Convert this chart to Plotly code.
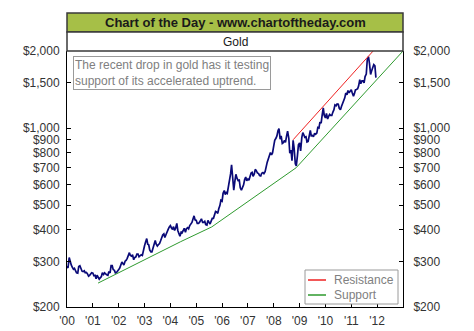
import pandas as pd
import plotly.graph_objects as go

# Gold price, US$/oz, sampled on the 1st and 15th of each month (Jan 2000 - Dec 2011)
dates = pd.date_range(start="2000-01-01", end="2011-12-15", freq="SMS")
gold = [
    289, 284, 312, 298, 292, 286, 281, 283, 277, 272, 271, 288, 290, 282, 276, 275, 277, 272, 273, 270, 264, 266, 268, 272,
    271, 265, 266, 258, 266, 262, 257, 260, 263, 272, 268, 272, 268, 267, 266, 275, 272, 290, 290, 280, 278, 272, 273, 278,
    280, 284, 292, 300, 296, 292, 302, 304, 310, 318, 326, 318, 316, 320, 306, 312, 314, 322, 322, 314, 318, 320, 318, 334,
    347, 358, 370, 352, 350, 334, 328, 328, 342, 356, 364, 352, 346, 350, 354, 362, 376, 382, 386, 374, 384, 396, 402, 410,
    416, 408, 402, 412, 398, 406, 424, 398, 386, 378, 392, 390, 398, 406, 392, 404, 408, 404, 416, 420, 428, 440, 454, 438,
    436, 424, 424, 428, 436, 442, 428, 428, 432, 420, 418, 436, 428, 422, 434, 444, 444, 462, 472, 470, 464, 484, 498, 522,
    518, 556, 570, 550, 560, 556, 588, 614, 662, 718, 636, 572, 620, 660, 636, 624, 626, 584, 572, 584, 600, 628, 644, 622,
    632, 626, 654, 668, 672, 648, 662, 690, 680, 668, 664, 652, 650, 666, 670, 664, 676, 712, 736, 756, 792, 802, 786, 800,
    852, 896, 912, 932, 975, 995, 905, 932, 870, 876, 894, 880, 932, 972, 912, 798, 820, 745, 895, 835, 725, 712, 780, 860,
    875, 815, 920, 960, 942, 920, 925, 882, 886, 926, 980, 932, 935, 925, 955, 945, 955, 1005, 1000, 1055, 1045, 1120, 1200, 1120,
    1095, 1140, 1085, 1112, 1130, 1120, 1120, 1152, 1180, 1232, 1222, 1242, 1240, 1195, 1180, 1215, 1245, 1272, 1312, 1370, 1350, 1402, 1372, 1392,
    1410, 1370, 1332, 1366, 1410, 1415, 1425, 1462, 1545, 1490, 1530, 1530, 1500, 1590, 1625, 1850, 1900, 1790, 1620, 1670, 1725, 1770, 1750, 1575,
]

# Trend lines
support_dates = ["2001-03-15", "2004-05-26", "2005-08-08", "2008-11-13", "2013-01-01"]
support_vals = [248, 360, 411, 700, 2000]
resist_dates = ["2008-10-01", "2011-11-06"]
resist_vals = [900, 2000]

# Axis ticks
year_ticks = [f"{y}-01-01" for y in range(2000, 2013)]
year_labels = ["'00", "'01", "'02", "'03", "'04", "'05", "'06", "'07", "'08", "'09", "'10", "'11", "'12"]
price_ticks = [200, 300, 400, 500, 600, 700, 800, 900, 1000, 1500, 2000]
price_labels = ["$200", "$300", "$400", "$500", "$600", "$700", "$800", "$900", "$1,000", "$1,500", "$2,000"]

FONT = "Liberation Sans, Arial, sans-serif"
LOG_RANGE = [2.30103, 3.30103]

fig = go.Figure()
fig.add_trace(go.Scatter(x=dates, y=gold, mode="lines",
                         line=dict(color="#0a0a78", width=1.7), name="Gold"))
fig.add_trace(go.Scatter(x=resist_dates, y=resist_vals, mode="lines",
                         line=dict(color="#ee2020", width=1), name="Resistance"))
fig.add_trace(go.Scatter(x=support_dates, y=support_vals, mode="lines",
                         line=dict(color="#2e9a2e", width=1), name="Support", yaxis="y2"))

axis_font = dict(family=FONT, size=12, color="#333333")
common = dict(ticks="inside", ticklen=4, tickcolor="#000", tickwidth=1,
              showline=True, linecolor="#000", linewidth=1,
              showgrid=False, zeroline=False, tickfont=axis_font, automargin=False)

fig.update_layout(
    template="none",
    width=474, height=331,
    margin=dict(l=67, r=71, t=51, b=24, autoexpand=False),
    paper_bgcolor="white", plot_bgcolor="white",
    showlegend=False,
    xaxis=dict(type="date", range=["2000-01-01", "2013-01-01"],
               tickvals=year_ticks, ticktext=year_labels,
               ticklabelstandoff=3, **common),
    yaxis=dict(type="log", range=LOG_RANGE,
               tickvals=price_ticks, ticktext=price_labels,
               ticklabelstandoff=4, **common),
    yaxis2=dict(type="log", range=LOG_RANGE, overlaying="y", side="right",
                tickvals=price_ticks, ticktext=price_labels,
                ticklabelstandoff=7, **common),
)

# Header banner and subtitle box above the plot area
plot_h = 256.0
def py(px_above_top):
    return 1 + px_above_top / plot_h

fig.add_shape(type="rect", xref="paper", yref="paper", x0=0, x1=1, y0=py(19), y1=py(38),
              fillcolor="#a6bf47", line=dict(color="#3a3a3a", width=1.5), layer="above")
fig.add_shape(type="rect", xref="paper", yref="paper", x0=0, x1=1, y0=py(0), y1=py(19),
              fillcolor="white", line=dict(color="#3a3a3a", width=1.5), layer="above")
fig.add_annotation(xref="paper", yref="paper", x=0.5, y=py(28.5), showarrow=False,
                   text="<b>Chart of the Day - www.chartoftheday.com</b>",
                   font=dict(family=FONT, size=13, color="#1a1a1a"), yanchor="middle")
fig.add_annotation(xref="paper", yref="paper", x=0.5, y=py(9.5), showarrow=False,
                   text="Gold", font=dict(family=FONT, size=12, color="#1a1a1a"), yanchor="middle")

# Commentary box
fig.add_annotation(xref="paper", yref="paper", x=0.018, y=1 - 5 / plot_h,
                   xanchor="left", yanchor="top", showarrow=False, align="left",
                   text="The recent drop in gold has it testing<br>support of its accelerated uptrend.",
                   font=dict(family=FONT, size=12, color="#808080"),
                   bordercolor="#9a9a9a", borderwidth=1, borderpad=1, bgcolor="white")

# Legend box for the trend lines
lx0, lx1 = (305 - 67) / 336, (398 - 67) / 336
fig.add_shape(type="rect", xref="paper", yref="paper", x0=lx0, x1=lx1,
              y0=(307 - 304) / plot_h, y1=(307 - 270) / plot_h,
              fillcolor="white", line=dict(color="#9a9a9a", width=1), layer="above")
for label, color, ypx in [("Resistance", "#ee2020", 280), ("Support", "#2e9a2e", 295)]:
    yy = (307 - ypx) / plot_h
    fig.add_shape(type="line", xref="paper", yref="paper",
                  x0=(308 - 67) / 336, x1=(326 - 67) / 336, y0=yy, y1=yy,
                  line=dict(color=color, width=1.5), layer="above")
    fig.add_annotation(xref="paper", yref="paper", x=(332 - 67) / 336, y=yy,
                       xanchor="left", yanchor="middle", showarrow=False, text=label,
                       font=dict(family=FONT, size=12, color="#808080"))

fig.write_html("out.html")
